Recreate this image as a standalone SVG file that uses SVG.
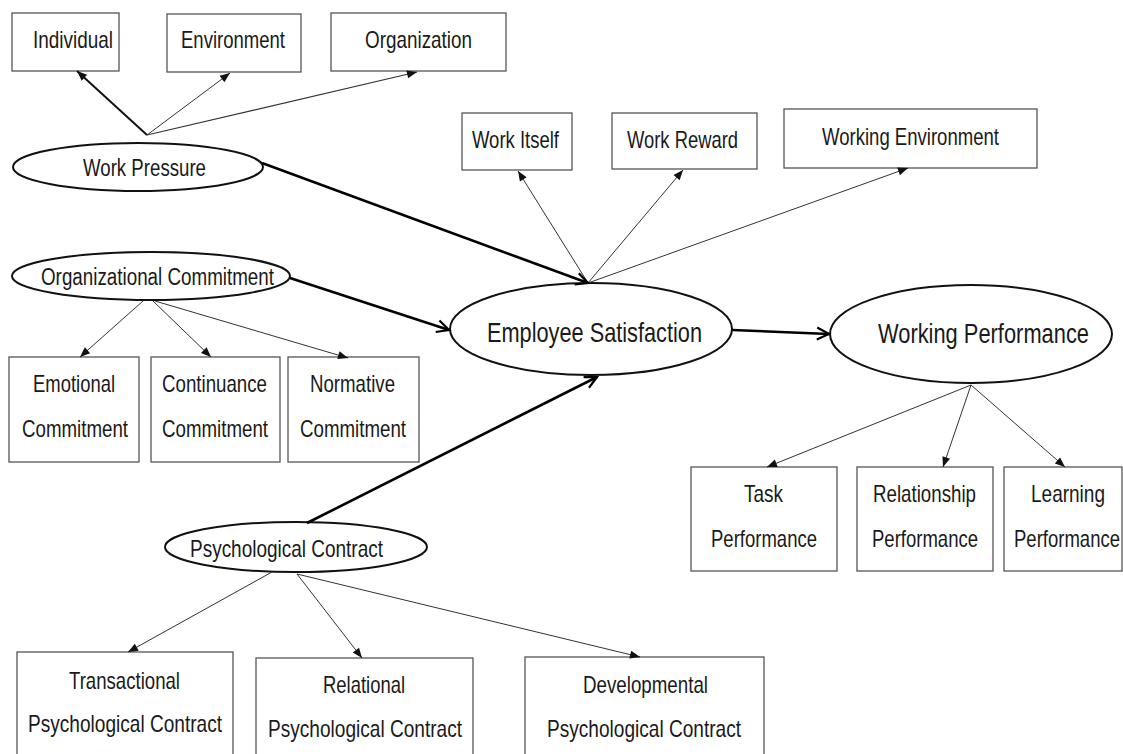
<svg xmlns="http://www.w3.org/2000/svg" width="1123" height="754" viewBox="0 0 1123 754">
<style>
.t{font-family:"Liberation Sans",Arial,sans-serif;font-size:24px;fill:#1a1a1a;text-anchor:middle}
.m{font-size:23px}
.big{font-size:28px}
.box{fill:#fff;stroke:#555;stroke-width:1.3}
.ell{fill:#fff;stroke:#111;stroke-width:2}
.thin{stroke:#333;stroke-width:1;fill:none;marker-end:url(#tri)}
.thick{stroke:#000;stroke-width:2.6;fill:none;marker-end:url(#chev)}
</style>
<defs>
<marker id="tri" markerUnits="userSpaceOnUse" markerWidth="11" markerHeight="9" refX="10" refY="4" orient="auto" overflow="visible">
<path d="M0,0 L10,4 L0,8 z" fill="#111"/>
</marker>
<marker id="chev" markerUnits="userSpaceOnUse" markerWidth="14" markerHeight="14" refX="12" refY="6" orient="auto" overflow="visible">
<path d="M0,0 L12,6 L0,12" fill="none" stroke="#000" stroke-width="2.2"/>
</marker>
</defs>
<rect width="1123" height="754" fill="#fff"/>

<g id="individual"><rect class="box" x="12" y="13" width="107" height="58"/><text class="t" x="73" y="48" textLength="80" lengthAdjust="spacingAndGlyphs">Individual</text></g>
<g id="environment"><rect class="box" x="167" y="14" width="134" height="58"/><text class="t" x="233" y="48" textLength="104" lengthAdjust="spacingAndGlyphs">Environment</text></g>
<g id="organization"><rect class="box" x="331" y="13" width="175" height="58"/><text class="t" x="418.5" y="48" textLength="107" lengthAdjust="spacingAndGlyphs">Organization</text></g>
<g id="work-pressure"><ellipse class="ell" cx="138" cy="167" rx="125" ry="24"/><text class="t m" x="144.5" y="176" textLength="123" lengthAdjust="spacingAndGlyphs">Work Pressure</text></g>

<g id="work-itself"><rect class="box" x="462" y="113" width="110" height="57"/><text class="t" x="515.5" y="148" textLength="87" lengthAdjust="spacingAndGlyphs">Work Itself</text></g>
<g id="work-reward"><rect class="box" x="612" y="113" width="145" height="56"/><text class="t" x="682.5" y="148" textLength="111" lengthAdjust="spacingAndGlyphs">Work Reward</text></g>
<g id="working-environment"><rect class="box" x="784" y="109" width="253" height="59"/><text class="t" x="910.5" y="145" textLength="177" lengthAdjust="spacingAndGlyphs">Working Environment</text></g>

<g id="organizational-commitment"><ellipse class="ell" cx="151" cy="276" rx="139" ry="24"/><text class="t m" x="157.5" y="285" textLength="233" lengthAdjust="spacingAndGlyphs">Organizational Commitment</text></g>
<g id="emotional"><rect class="box" x="9" y="357" width="130" height="105"/><text class="t" x="74" y="392" textLength="82" lengthAdjust="spacingAndGlyphs">Emotional</text><text class="t" x="75" y="437" textLength="106" lengthAdjust="spacingAndGlyphs">Commitment</text></g>
<g id="continuance"><rect class="box" x="151" y="357" width="129" height="105"/><text class="t" x="214.5" y="392" textLength="105" lengthAdjust="spacingAndGlyphs">Continuance</text><text class="t" x="215" y="437" textLength="106" lengthAdjust="spacingAndGlyphs">Commitment</text></g>
<g id="normative"><rect class="box" x="288" y="357" width="131" height="105"/><text class="t" x="352.5" y="392" textLength="85" lengthAdjust="spacingAndGlyphs">Normative</text><text class="t" x="353" y="437" textLength="106" lengthAdjust="spacingAndGlyphs">Commitment</text></g>

<g id="employee-satisfaction"><ellipse class="ell" cx="591" cy="329" rx="141" ry="46"/><text class="t big" x="594.5" y="342" textLength="215" lengthAdjust="spacingAndGlyphs">Employee Satisfaction</text></g>
<g id="working-performance"><ellipse class="ell" cx="971" cy="334" rx="141" ry="49"/><text class="t big" x="983.5" y="343" textLength="211" lengthAdjust="spacingAndGlyphs">Working Performance</text></g>

<g id="task"><rect class="box" x="691" y="467" width="146" height="104"/><text class="t" x="763.5" y="502" textLength="39" lengthAdjust="spacingAndGlyphs">Task</text><text class="t" x="764" y="547" textLength="106" lengthAdjust="spacingAndGlyphs">Performance</text></g>
<g id="relationship"><rect class="box" x="857" y="467" width="136" height="104"/><text class="t" x="924.5" y="502" textLength="103" lengthAdjust="spacingAndGlyphs">Relationship</text><text class="t" x="925" y="547" textLength="106" lengthAdjust="spacingAndGlyphs">Performance</text></g>
<g id="learning"><rect class="box" x="1004" y="467" width="118" height="104"/><text class="t" x="1068" y="502" textLength="74" lengthAdjust="spacingAndGlyphs">Learning</text><text class="t" x="1067" y="547" textLength="106" lengthAdjust="spacingAndGlyphs">Performance</text></g>

<g id="psychological-contract"><ellipse class="ell" cx="296" cy="547" rx="131" ry="25"/><text class="t" x="286.5" y="557" textLength="193" lengthAdjust="spacingAndGlyphs">Psychological Contract</text></g>
<g id="transactional"><rect class="box" x="17" y="652" width="216" height="110"/><text class="t" x="124.5" y="689" textLength="111" lengthAdjust="spacingAndGlyphs">Transactional</text><text class="t" x="125" y="732" textLength="194" lengthAdjust="spacingAndGlyphs">Psychological Contract</text></g>
<g id="relational"><rect class="box" x="256" y="658" width="217" height="104"/><text class="t" x="364" y="693" textLength="82" lengthAdjust="spacingAndGlyphs">Relational</text><text class="t" x="365" y="737" textLength="194" lengthAdjust="spacingAndGlyphs">Psychological Contract</text></g>
<g id="developmental"><rect class="box" x="525" y="657" width="239" height="105"/><text class="t" x="645.5" y="693" textLength="125" lengthAdjust="spacingAndGlyphs">Developmental</text><text class="t" x="644" y="737" textLength="194" lengthAdjust="spacingAndGlyphs">Psychological Contract</text></g>

<g id="connectors">
<line class="thin" x1="147" y1="135" x2="77" y2="71" style="stroke-width:2;stroke:#111"/>
<line class="thin" x1="147" y1="135" x2="230" y2="73"/>
<line class="thin" x1="147" y1="135" x2="417" y2="72" style="stroke-width:1.2"/>
<line class="thin" x1="588" y1="283" x2="518" y2="171"/>
<line class="thin" x1="588" y1="283" x2="683" y2="170"/>
<line class="thin" x1="588" y1="283" x2="908" y2="168"/>
<line class="thin" x1="143" y1="301" x2="80" y2="357"/>
<line class="thin" x1="153" y1="301" x2="211" y2="357"/>
<line class="thin" x1="155" y1="301" x2="348" y2="358"/>
<line class="thin" x1="971" y1="385" x2="767" y2="467"/>
<line class="thin" x1="971" y1="385" x2="943" y2="467"/>
<line class="thin" x1="971" y1="385" x2="1065" y2="467"/>
<line class="thin" x1="272" y1="572" x2="128" y2="652"/>
<line class="thin" x1="297" y1="574" x2="362" y2="658"/>
<line class="thin" x1="297" y1="574" x2="640" y2="657"/>
<line class="thick" x1="262" y1="163" x2="588" y2="283"/>
<line class="thick" x1="290" y1="278" x2="449" y2="330"/>
<line class="thick" x1="307" y1="523" x2="597" y2="377"/>
<line class="thick" x1="732" y1="330" x2="829" y2="334"/>
</g>
</svg>
